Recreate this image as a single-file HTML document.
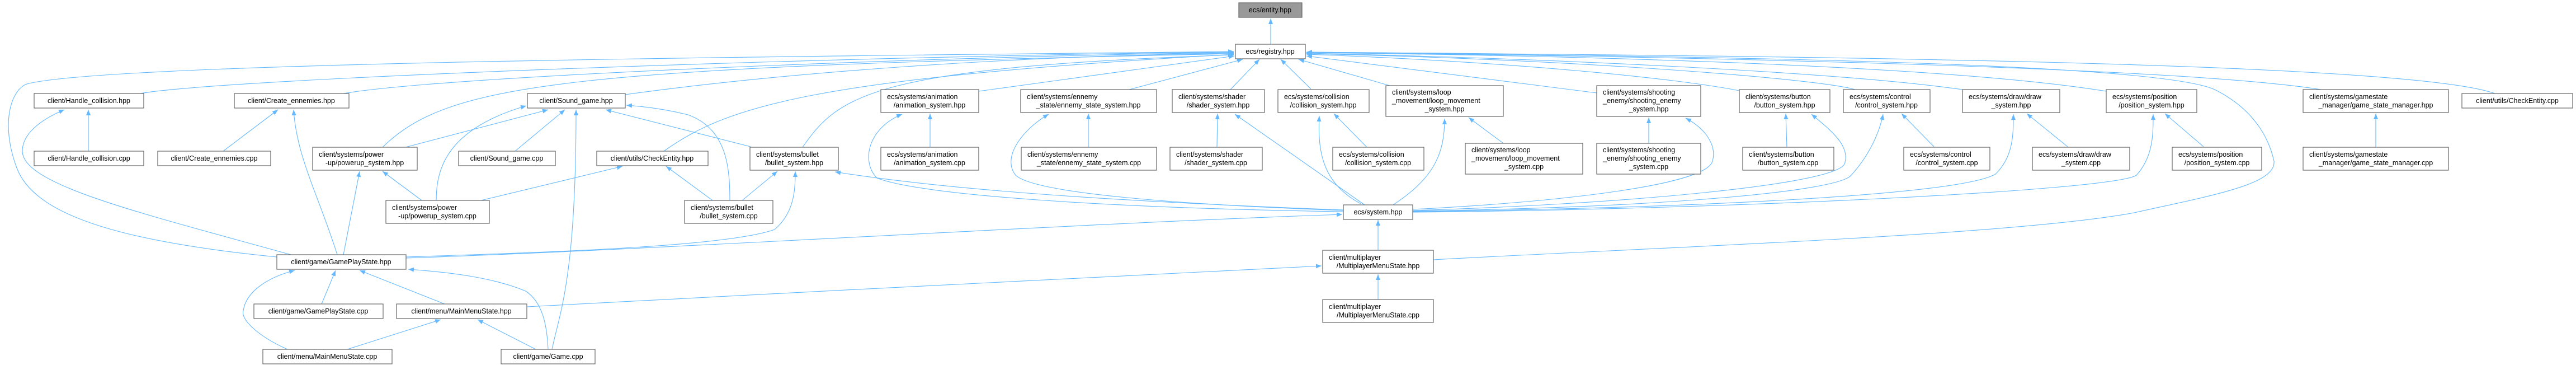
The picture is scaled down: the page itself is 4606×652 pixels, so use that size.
<!DOCTYPE html>
<html><head><meta charset="utf-8"><style>
html,body{margin:0;padding:0;background:#fff}
svg{display:block}
text{font-family:"Liberation Sans",sans-serif;font-size:12.5px;fill:#000}
.e{fill:none;stroke:#63b8ff;stroke-width:1.1}
.n{fill:#fff;stroke:#666;stroke-width:1.2}
</style></head><body>
<svg width="4606" height="652" viewBox="0 0 4606 652" xmlns="http://www.w3.org/2000/svg">
<defs><marker id="a" markerUnits="userSpaceOnUse" markerWidth="11" markerHeight="8" refX="10" refY="4" orient="auto"><path d="M0,0 L10,4 L0,8 z" fill="#63b8ff"/></marker></defs>
<g class="e" marker-end="url(#a)">
<path d="M2272,79 L2272,33"/>
<path d="M251,167 C400,140 1500,100 2206,93"/>
<path d="M614,167 C800,135 1700,100 2206,94"/>
<path d="M1118,169 C1400,130 1800,100 2206,95"/>
<path d="M684,263 C800,150 1000,120 2206,96"/>
<path d="M1187,270 C1300,190 1450,140 2206,97"/>
<path d="M1435,263 C1500,170 1560,120 2206,98"/>
<path d="M495,459 C200,430 60,380 30,300 C0,220 20,160 48,150 C200,110 1500,100 2206,92"/>
<path d="M1750,163 L2207,100"/>
<path d="M2019,160 L2222,106"/>
<path d="M2200,160 L2252,106"/>
<path d="M2344,159 L2290,106"/>
<path d="M2485,153 L2322,106"/>
<path d="M2855,166 L2336,100"/>
<path d="M3110,162 C3000,140 2700,110 2336,97"/>
<path d="M3317,160 C3250,140 2800,105 2336,96"/>
<path d="M3509,160 C3300,130 2800,105 2336,95"/>
<path d="M3766,163 C3500,120 2900,100 2336,94"/>
<path d="M4150,160 C3900,120 3000,100 2336,94"/>
<path d="M4461,167 C4300,110 3200,100 2336,93"/>
<path d="M2563,464 C3000,440 3600,420 3816,380 C3950,350 4070,330 4066,288 C4060,260 4040,200 3960,160 C3850,110 3000,100 2336,93"/>
<path d="M2440,366 L2208,204"/>
<path d="M2433,364 C2370,330 2355,280 2359,207"/>
<path d="M2491,366 C2560,320 2583,280 2583,212"/>
<path d="M2526,374 C2800,360 3050,330 3062,288 C3070,260 3050,230 3014,211"/>
<path d="M2526,376 C2900,365 3280,330 3298,293 C3310,260 3270,230 3239,204"/>
<path d="M2526,377 C3000,370 3290,340 3310,313 C3340,280 3360,240 3367,204"/>
<path d="M2526,378 C3000,372 3500,350 3568,311 C3600,280 3600,240 3600,204"/>
<path d="M2526,379 C3100,374 3780,340 3820,313 C3850,280 3850,240 3850,204"/>
<path d="M2402,378 C2000,372 1650,350 1568,318 C1540,290 1550,230 1613,204"/>
<path d="M2402,376 C2100,365 1850,345 1816,313 C1790,280 1830,230 1875,204"/>
<path d="M2402,375 C2000,360 1700,340 1493,307"/>
<path d="M726,461 C1200,445 1900,400 2400,383"/>
<path d="M726,459 C1000,450 1300,440 1385,410 C1420,380 1422,340 1422,306"/>
<path d="M520,455 C250,380 40,330 40,270 C40,240 70,215 115,196"/>
<path d="M603,455 C570,350 530,280 525,196"/>
<path d="M614,455 L643,306"/>
<path d="M575,543 L600,483"/>
<path d="M795,543 L643,483"/>
<path d="M514,624 C460,600 430,570 435,555 C440,520 480,495 527,483"/>
<path d="M980,624 C978,580 970,540 940,520 C880,495 800,486 730,481"/>
<path d="M621,624 L788,571"/>
<path d="M958,624 L854,571"/>
<path d="M987,624 C1000,560 1030,500 1030,196"/>
<path d="M942,548 C1400,525 2000,490 2363,475"/>
<path d="M2464,447 L2464,393"/>
<path d="M2464,535 L2464,490"/>
<path d="M725,263 L980,196"/>
<path d="M921,270 L1010,196"/>
<path d="M780,358 C780,300 800,230 941,189"/>
<path d="M754,358 L684,306"/>
<path d="M860,358 L1113,297"/>
<path d="M1342,262 L1083,196"/>
<path d="M1305,358 C1305,300 1300,230 1230,205 C1190,195 1150,190 1120,188"/>
<path d="M1274,358 L1191,297"/>
<path d="M1327,358 L1390,306"/>
<path d="M1663,263 L1663,203"/>
<path d="M1946,263 L1946,203"/>
<path d="M2176,263 L2177,203"/>
<path d="M2444,263 L2385,203"/>
<path d="M2688,256 L2626,210"/>
<path d="M2948,256 L2948,210"/>
<path d="M3195,263 L3193,203"/>
<path d="M3458,262 L3400,203"/>
<path d="M3697,262 L3624,203"/>
<path d="M3940,262 L3871,203"/>
<path d="M4248,263 L4248,203"/>
<path d="M158,270 L158,196"/>
<path d="M399,270 L497,196"/>
</g>
<g>
<rect class="n" x="2215" y="5" width="113" height="26" style="fill:#999"/><text x="2271" y="22" text-anchor="middle">ecs/entity.hpp</text>
<rect class="n" x="2209" y="79" width="125" height="26"/><text x="2271" y="96" text-anchor="middle">ecs/registry.hpp</text>
<rect class="n" x="61" y="167" width="196" height="26"/><text x="159" y="184" text-anchor="middle">client/Handle_collision.hpp</text>
<rect class="n" x="419" y="167" width="205" height="26"/><text x="521" y="184" text-anchor="middle">client/Create_ennemies.hpp</text>
<rect class="n" x="943" y="167" width="175" height="26"/><text x="1030" y="184" text-anchor="middle">client/Sound_game.hpp</text>
<rect class="n" x="61" y="270" width="196" height="26"/><text x="159" y="287" text-anchor="middle">client/Handle_collision.cpp</text>
<rect class="n" x="282" y="270" width="202" height="26"/><text x="383" y="287" text-anchor="middle">client/Create_ennemies.cpp</text>
<rect class="n" x="559" y="263" width="187" height="41"/><text x="570" y="280">client/systems/power</text><text x="652" y="295" text-anchor="middle">-up/powerup_system.hpp</text>
<rect class="n" x="820" y="270" width="173" height="26"/><text x="906" y="287" text-anchor="middle">client/Sound_game.cpp</text>
<rect class="n" x="1067" y="270" width="199" height="26"/><text x="1166" y="287" text-anchor="middle">client/utils/CheckEntity.hpp</text>
<rect class="n" x="690" y="358" width="185" height="41"/><text x="701" y="375">client/systems/power</text><text x="782" y="390" text-anchor="middle">-up/powerup_system.cpp</text>
<rect class="n" x="495" y="455" width="231" height="26"/><text x="610" y="472" text-anchor="middle">client/game/GamePlayState.hpp</text>
<rect class="n" x="454" y="543" width="231" height="26"/><text x="569" y="560" text-anchor="middle">client/game/GamePlayState.cpp</text>
<rect class="n" x="709" y="543" width="233" height="26"/><text x="825" y="560" text-anchor="middle">client/menu/MainMenuState.hpp</text>
<rect class="n" x="470" y="624" width="231" height="26"/><text x="585" y="641" text-anchor="middle">client/menu/MainMenuState.cpp</text>
<rect class="n" x="896" y="624" width="168" height="26"/><text x="980" y="641" text-anchor="middle">client/game/Game.cpp</text>
<rect class="n" x="1575" y="160" width="175" height="41"/><text x="1586" y="177">ecs/systems/animation</text><text x="1662" y="192" text-anchor="middle">/animation_system.hpp</text>
<rect class="n" x="1825" y="160" width="243" height="41"/><text x="1836" y="177">client/systems/ennemy</text><text x="1946" y="192" text-anchor="middle">_state/ennemy_state_system.hpp</text>
<rect class="n" x="2096" y="160" width="165" height="41"/><text x="2107" y="177">client/systems/shader</text><text x="2178" y="192" text-anchor="middle">/shader_system.hpp</text>
<rect class="n" x="2285" y="160" width="163" height="41"/><text x="2296" y="177">ecs/systems/collision</text><text x="2366" y="192" text-anchor="middle">/collision_system.hpp</text>
<rect class="n" x="1341" y="263" width="158" height="41"/><text x="1352" y="280">client/systems/bullet</text><text x="1420" y="295" text-anchor="middle">/bullet_system.hpp</text>
<rect class="n" x="1575" y="263" width="175" height="41"/><text x="1586" y="280">ecs/systems/animation</text><text x="1662" y="295" text-anchor="middle">/animation_system.cpp</text>
<rect class="n" x="1826" y="263" width="242" height="41"/><text x="1837" y="280">client/systems/ennemy</text><text x="1947" y="295" text-anchor="middle">_state/ennemy_state_system.cpp</text>
<rect class="n" x="2092" y="263" width="165" height="41"/><text x="2103" y="280">client/systems/shader</text><text x="2174" y="295" text-anchor="middle">/shader_system.cpp</text>
<rect class="n" x="1224" y="358" width="158" height="41"/><text x="1235" y="375">client/systems/bullet</text><text x="1303" y="390" text-anchor="middle">/bullet_system.cpp</text>
<rect class="n" x="2478" y="153" width="210" height="55"/><text x="2489" y="169">client/systems/loop</text><text x="2489" y="184">_movement/loop_movement</text><text x="2583" y="199" text-anchor="middle">_system.hpp</text>
<rect class="n" x="2855" y="153" width="186" height="55"/><text x="2866" y="169">client/systems/shooting</text><text x="2866" y="184">_enemy/shooting_enemy</text><text x="2948" y="199" text-anchor="middle">_system.hpp</text>
<rect class="n" x="3110" y="160" width="162" height="41"/><text x="3121" y="177">client/systems/button</text><text x="3191" y="192" text-anchor="middle">/button_system.hpp</text>
<rect class="n" x="3296" y="160" width="155" height="41"/><text x="3307" y="177">ecs/systems/control</text><text x="3373" y="192" text-anchor="middle">/control_system.hpp</text>
<rect class="n" x="2383" y="263" width="163" height="41"/><text x="2394" y="280">ecs/systems/collision</text><text x="2464" y="295" text-anchor="middle">/collision_system.cpp</text>
<rect class="n" x="2620" y="256" width="210" height="55"/><text x="2631" y="272">client/systems/loop</text><text x="2631" y="287">_movement/loop_movement</text><text x="2725" y="302" text-anchor="middle">_system.cpp</text>
<rect class="n" x="2855" y="256" width="186" height="55"/><text x="2866" y="272">client/systems/shooting</text><text x="2866" y="287">_enemy/shooting_enemy</text><text x="2948" y="302" text-anchor="middle">_system.cpp</text>
<rect class="n" x="3116" y="263" width="163" height="41"/><text x="3127" y="280">client/systems/button</text><text x="3197" y="295" text-anchor="middle">/button_system.cpp</text>
<rect class="n" x="3404" y="263" width="154" height="41"/><text x="3415" y="280">ecs/systems/control</text><text x="3481" y="295" text-anchor="middle">/control_system.cpp</text>
<rect class="n" x="2402" y="366" width="124" height="26"/><text x="2464" y="383" text-anchor="middle">ecs/system.hpp</text>
<rect class="n" x="2365" y="447" width="198" height="41"/><text x="2376" y="464">client/multiplayer</text><text x="2464" y="479" text-anchor="middle">/MultiplayerMenuState.hpp</text>
<rect class="n" x="2365" y="535" width="198" height="41"/><text x="2376" y="552">client/multiplayer</text><text x="2464" y="567" text-anchor="middle">/MultiplayerMenuState.cpp</text>
<rect class="n" x="3509" y="160" width="174" height="41"/><text x="3520" y="177">ecs/systems/draw/draw</text><text x="3596" y="192" text-anchor="middle">_system.hpp</text>
<rect class="n" x="3766" y="160" width="162" height="41"/><text x="3777" y="177">ecs/systems/position</text><text x="3847" y="192" text-anchor="middle">/position_system.hpp</text>
<rect class="n" x="4118" y="160" width="260" height="41"/><text x="4129" y="177">client/systems/gamestate</text><text x="4248" y="192" text-anchor="middle">_manager/game_state_manager.hpp</text>
<rect class="n" x="4402" y="167" width="198" height="26"/><text x="4501" y="184" text-anchor="middle">client/utils/CheckEntity.cpp</text>
<rect class="n" x="3634" y="263" width="174" height="41"/><text x="3645" y="280">ecs/systems/draw/draw</text><text x="3721" y="295" text-anchor="middle">_system.cpp</text>
<rect class="n" x="3884" y="263" width="160" height="41"/><text x="3895" y="280">ecs/systems/position</text><text x="3964" y="295" text-anchor="middle">/position_system.cpp</text>
<rect class="n" x="4118" y="263" width="260" height="41"/><text x="4129" y="280">client/systems/gamestate</text><text x="4248" y="295" text-anchor="middle">_manager/game_state_manager.cpp</text>
</g>
</svg>
</body></html>
